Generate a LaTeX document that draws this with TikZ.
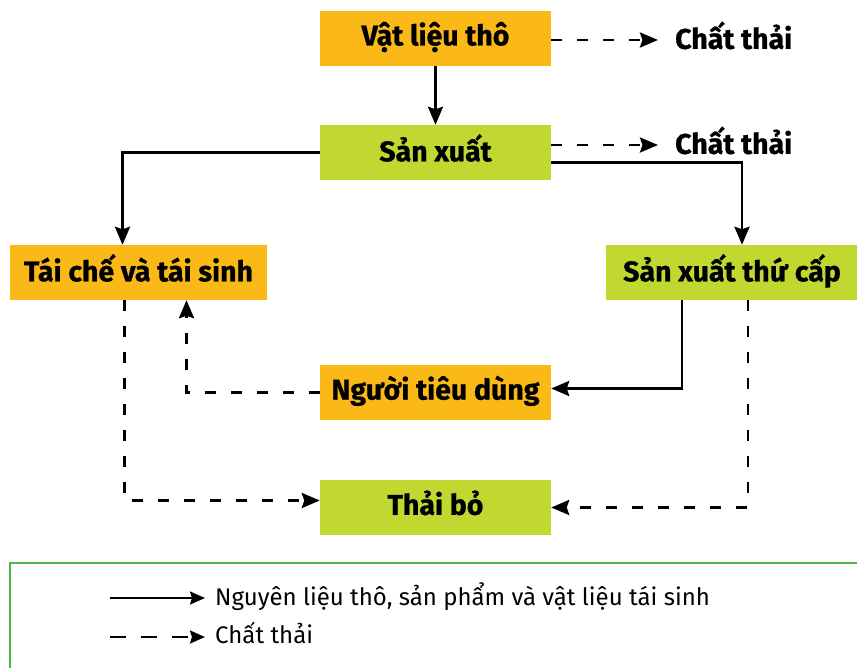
\documentclass[tikz,border=0pt]{standalone}
\usepackage{fontspec}
\setmainfont{Fira Sans}[BoldFeatures={FakeBold=0.8}]
\usetikzlibrary{arrows.meta, positioning}
\definecolor{boxorange}{HTML}{FBB917}
\definecolor{boxgreen}{HTML}{C0D82F}
\definecolor{legendgreen}{HTML}{4DB848}

\begin{document}
\begin{tikzpicture}[
			x=1pt, y=-1pt,
			stage/.style={minimum width=231pt, minimum height=55pt, inner sep=0pt, font=\fontsize{28.5}{32}\selectfont\bfseries},
			orangestage/.style={stage, fill=boxorange},
			greenstage/.style={stage, fill=boxgreen},
			wastelabel/.style={anchor=west, inner sep=0pt, font=\fontsize{28.5}{32}\selectfont\bfseries},
			legendlabel/.style={anchor=west, inner sep=0pt, font=\fontsize{24}{28}\selectfont},
			flow/.style={line width=2.8pt, -{Stealth[length=18pt, width=15pt, inset=2.5pt]}},
			waste/.style={flow, dash pattern=on 11pt off 15pt},
			legendflow/.style={line width=2.3pt, -{Stealth[length=15pt, width=13pt, inset=2pt]}},
			legendwaste/.style={legendflow, dash pattern=on 16pt off 15pt}
			]
			\useasboundingbox (0,0) rectangle (857,668);
			% stages
			\node[orangestage] (raw) at (435.5,38.5) {Vật liệu thô\strut};
			\node[greenstage] (production) at (435.5,152.5) {Sản xuất\strut};
			\node[orangestage, minimum width=257pt] (recycling) at (138.5,272.5) {Tái chế và tái sinh\strut};
			\node[greenstage, minimum width=252pt] (secondary) at (732,272.5) {Sản xuất thứ cấp\strut};
			\node[orangestage] (consumer) at (435.5,392.5) {Người tiêu dùng\strut};
			\node[greenstage] (disposal) at (435.5,507.5) {Thải bỏ\strut};
			\node[wastelabel] (rawwaste) at (675,40) {Chất thải\strut};
			\node[wastelabel] (productionwaste) at (675,145) {Chất thải\strut};
			% connectors
			\draw[flow] (raw) -- (production);
			\draw[waste] (raw.east |- rawwaste.west) -- ([xshift=-17pt]rawwaste.west);
			\draw[waste] (production.east |- productionwaste.west) -- ([xshift=-17pt]productionwaste.west);
			\draw[flow] (production.west) -| ([xshift=-16pt]recycling.north);
			\draw[flow] ([yshift=-10pt]production.east) -| ([xshift=10pt]secondary.north);
			\draw[flow] ([xshift=-50pt]secondary.south) |- ([yshift=4pt]consumer.east);
			\draw[waste] ([xshift=16pt]secondary.south) |- (disposal.east);
			\draw[waste] (consumer.west) -| ([xshift=48pt]recycling.south);
			\draw[waste] ([xshift=-14pt]recycling.south) |- ([yshift=7pt]disposal.west);
			% legend
			\draw[legendgreen, line width=2pt] (10,563) rectangle (880,700);
			\coordinate (solidstart) at (110,598);
			\coordinate (dashedstart) at (110,637);
			\node[legendlabel] (solidtext) at (215,598) {Nguyên liệu thô, sản phẩm và vật liệu tái sinh\strut};
			\node[legendlabel] (dashedtext) at (215,637) {Chất thải\strut};
			\draw[legendflow] (solidstart) -- ([xshift=-10pt]solidtext.west);
			\draw[legendwaste] (dashedstart) -- ([xshift=-10pt]dashedtext.west);
		\end{tikzpicture}
\end{document}
